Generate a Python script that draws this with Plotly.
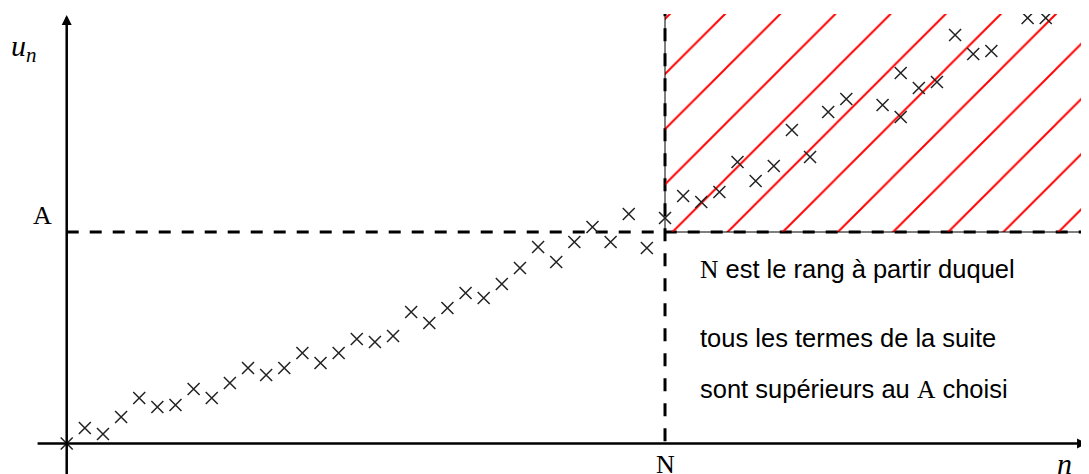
"""Suite u_n tendant vers +inf : rang N à partir duquel u_n > A."""
import plotly.graph_objects as go

# indices n and values u_n (A = 10, N = 33)
rangs = list(range(0, 44)) + [45, 46, 46, 47, 48, 49, 50, 51, 53, 54]
termes = [
    0.00, 0.73, 0.45, 1.25, 2.15, 1.73, 1.82, 2.58, 2.15, 2.86,
    3.57, 3.24, 3.57, 4.28, 3.81, 4.28, 4.94, 4.80, 5.08, 6.22,
    5.70, 6.41, 7.12, 6.88, 7.54, 8.30, 9.29, 8.58, 9.53, 10.24,
    9.53, 10.85, 9.24, 10.66, 11.70, 11.42, 11.89, 13.31, 12.41, 13.12,
    14.82, 13.55, 15.67, 16.29,
    16.00, 17.52, 15.44, 16.81, 17.09, 19.31, 18.42, 18.56, 20.12, 20.12,
]
A = 10
N = 33
texte = [
    "<span style='font-family:Liberation Serif'>N</span> est le rang à partir duquel",
    "tous les termes de la suite",
    "sont supérieurs au <span style='font-family:Liberation Serif'>A</span> choisi",
]
texte_y = [8.21, 4.99, 2.53]

# the page body adds an 8px margin, so the figure is 8px smaller than the window
X_MIN, X_MAX = -3.238, 56.386
Y_MIN, Y_MAX = -1.442, 20.307

fig = go.Figure()

# zone hachurée : n >= N et u_n >= A
fig.add_trace(go.Scatter(
    x=[N, 60, 60, N, N], y=[A, A, 22, 22, A],
    mode="lines", fill="toself",
    fillcolor="rgba(0,0,0,0)",
    fillpattern=dict(shape="/", fgcolor="#ff0000", fgopacity=1,
                     bgcolor="rgba(0,0,0,0)", size=39, solidity=0.05),
    line=dict(color="black", width=1),
    hoverinfo="skip", showlegend=False,
))

# pointillés A et N
fig.add_shape(type="line", x0=0, y0=A, x1=60, y1=A, layer="below",
              line=dict(color="black", width=3, dash="12px,11px"))
fig.add_shape(type="line", x0=N, y0=22, x1=N, y1=0, layer="below",
              line=dict(color="black", width=3, dash="13px,12px"))

fig.add_trace(go.Scatter(
    x=rangs, y=termes, mode="markers",
    marker=dict(symbol="x-thin", size=12, line=dict(color="#222", width=1.5)),
    hoverinfo="x+y", showlegend=False,
))

# axes fléchés
fig.add_annotation(x=56.28, y=0, ax=-1.69, ay=0, axref="x", ayref="y",
                   text="", showarrow=True, arrowhead=2, arrowsize=0.8,
                   arrowwidth=2.5, arrowcolor="black")
fig.add_annotation(x=0, y=20.26, ax=0, ay=-1.6, axref="x", ayref="y",
                   text="", showarrow=True, arrowhead=2, arrowsize=0.8,
                   arrowwidth=2.5, arrowcolor="black")

serif = "Liberation Serif"
fig.add_annotation(x=-2.35, y=18.70, text="<i>u<sub>n</sub></i>", showarrow=False,
                   font=dict(family=serif, size=30, color="black"))
fig.add_annotation(x=-1.36, y=10.80, text="A", showarrow=False,
                   font=dict(family=serif, size=26, color="black"))
fig.add_annotation(x=N, y=-0.98, text="N", showarrow=False,
                   font=dict(family=serif, size=26, color="black"))
fig.add_annotation(x=55.06, y=-0.93, text="<i>n</i>", showarrow=False,
                   font=dict(family=serif, size=30, color="black"))

for t, ty in zip(texte, texte_y):
    fig.add_annotation(x=34.82, y=ty, text=t, showarrow=False, xanchor="left",
                       font=dict(family="Liberation Sans", size=25.5, color="black"))

fig.update_xaxes(range=[X_MIN, X_MAX], visible=False, showgrid=False, zeroline=False)
fig.update_yaxes(range=[Y_MIN, Y_MAX], visible=False, showgrid=False, zeroline=False)
fig.update_layout(
    width=1081, height=466,
    margin=dict(l=0, r=0, t=6, b=0),
    plot_bgcolor="white", paper_bgcolor="white",
)
fig.write_html("out.html")
